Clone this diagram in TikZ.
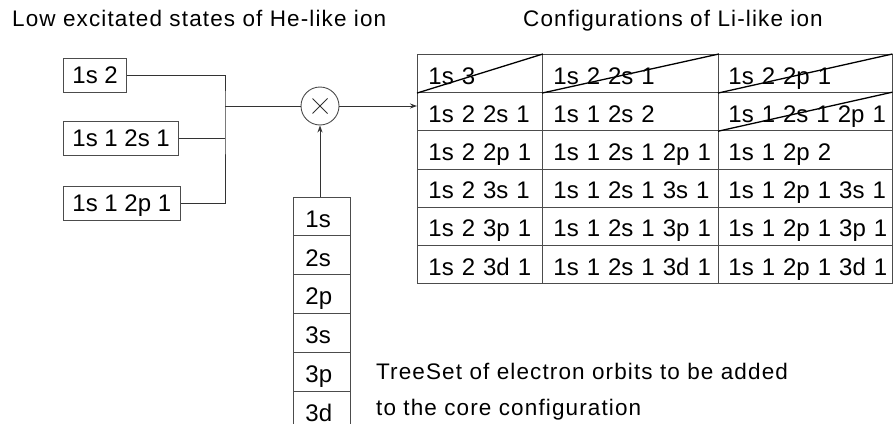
\documentclass[tikz,border=0pt]{standalone}
\usepackage{fontspec}
\setmainfont{Liberation Sans}
\newfontfamily\captionfont[LetterSpace=5]{Liberation Sans}
\usetikzlibrary{arrows.meta}

\begin{document}
\begin{tikzpicture}[x=1pt, y=-1pt,
  every node/.style={text=black},
  frame/.style={draw=black!70, line width=0.9pt},
  wire/.style={draw=black!80, line width=0.9pt},
  tip/.style={-{Stealth[length=7pt, width=5pt]}},
  strike/.style={draw=black, line width=1.3pt},
  caption/.style={font=\captionfont\fontsize{22.5}{26}\selectfont, anchor=base west, inner sep=0pt},
  statebox/.style={frame, rectangle, anchor=west, font=\fontsize{24}{28}\selectfont,
    inner xsep=9pt, inner ysep=0pt, minimum height=34pt, text height=20pt, text depth=4pt},
  cell/.style n args={2}{frame, rectangle, anchor=north west, font=\fontsize{24}{28}\selectfont,
    text width=#1, align=left, inner xsep=11pt, inner ysep=0pt, minimum height=#2,
    text height=21.5pt, text depth=0pt},
]
\useasboundingbox (0,0) rectangle (894,423);

% headings
\node[caption] (hdrL) at (12,27) {Low excitated states of He-like ion};
\node[caption] (hdrR) at (523,27) {Configurations of Li-like ion};

% He-like core states
\node[statebox] (a1) at (63,75)  {1s 2};
\node[statebox] (a2) at (63,138) {1s 1 2s 1};
\node[statebox] (a3) at (63,203) {1s 1 2p 1};

% product operator
\node[circle, frame, minimum size=38pt, inner sep=0pt] (mul) at (320,106) {};
\draw[wire] ([shift={(-7.5,-7.5)}]mul.center) -- ([shift={(7.5,7.5)}]mul.center);
\draw[wire] ([shift={(-7.5,7.5)}]mul.center) -- ([shift={(7.5,-7.5)}]mul.center);

% Li-like configuration table
\foreach \r/\a/\b/\c in {
  1/{1s 3}/{1s 2 2s 1}/{1s 2 2p 1},
  2/{1s 2 2s 1}/{1s 1 2s 2}/{1s 1 2s 1 2p 1},
  3/{1s 2 2p 1}/{1s 1 2s 1 2p 1}/{1s 1 2p 2},
  4/{1s 2 3s 1}/{1s 1 2s 1 3s 1}/{1s 1 2p 1 3s 1},
  5/{1s 2 3p 1}/{1s 1 2s 1 3p 1}/{1s 1 2p 1 3p 1},
  6/{1s 2 3d 1}/{1s 1 2s 1 3d 1}/{1s 1 2p 1 3d 1}}{
  \pgfmathsetmacro\yy{54+(\r-1)*38.17}
  \node[cell={103pt}{38.17pt}]   (c\r-1) at (417,\yy) {\mbox{\a}};
  \node[cell={154pt}{38.17pt}]   (c\r-2) at (542,\yy) {\mbox{\b}};
  \node[cell={153.5pt}{38.17pt}, inner xsep=10pt] (c\r-3) at (718,\yy) {\mbox{\c}};
}
\foreach \n in {c1-1, c1-2, c1-3, c2-3}
  \draw[strike] (\n.south west) -- (\n.north east);

% orbit set
\foreach \i/\t in {1/1s, 2/2s, 3/2p, 4/3s, 5/3p, 6/3d}{
  \pgfmathsetmacro\yy{196.5+(\i-1)*38.9}
  \node[cell={33pt}{38.9pt}, inner xsep=12pt] (o\i) at (293,\yy) {\t};
}
\node[caption] (note1) at (376,379) {TreeSet of electron orbits to be added};
\node[caption] (note2) at (376,415) {to the core configuration};

% connectors
\coordinate (bus) at (225,106);
\draw[wire] (a1.east) -| (bus) |- (a3.east);
\draw[wire] (a2.east) -- (a2.east -| bus);
\draw[wire] (bus) -- (mul.west);
\draw[wire, tip] (mul.east) -- (mul.east -| c2-1.west);
\draw[wire, tip] (o1.north -| mul) -- (mul.south);
\end{tikzpicture}
\end{document}
